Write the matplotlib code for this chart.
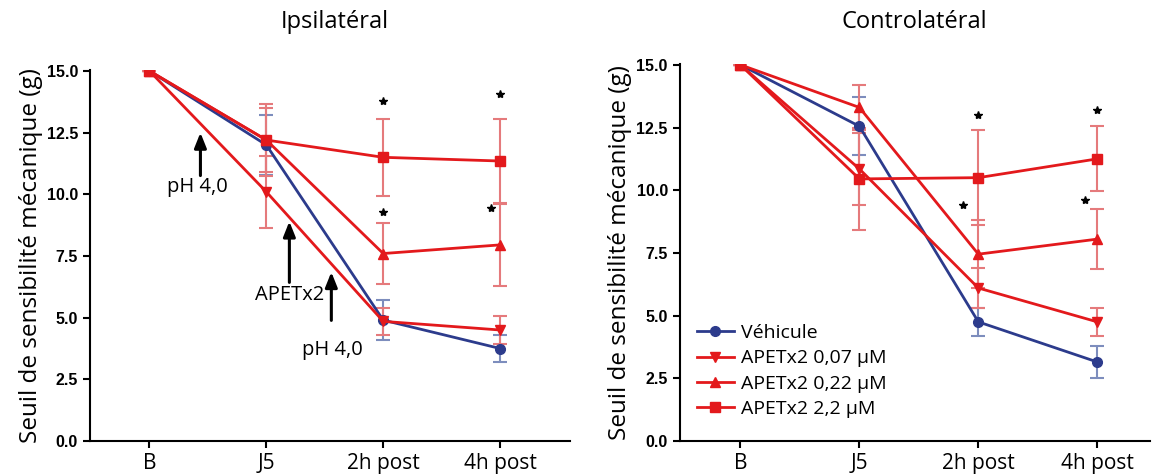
import matplotlib
matplotlib.use("Agg")
import matplotlib.pyplot as plt

times = ["B", "J5", "2h post", "4h post"]
labels = ["Véhicule", "APETx2 0,07 µM", "APETx2 0,22 µM", "APETx2 2,2 µM"]

# Ipsilatéral
ipsi_vehicule = [15, 12.0, 4.9, 3.75]
ipsi_007 = [15, 10.1, 4.85, 4.5]
ipsi_022 = [15, 12.2, 7.6, 7.95]
ipsi_22 = [15, 12.2, 11.5, 11.35]
ipsi_err_vehicule = [0, 1.2, 0.8, 0.55]
ipsi_err_007 = [0, 1.45, 0.55, 0.55]
ipsi_err_022 = [0, 1.45, 1.25, 1.65]
ipsi_err_22 = [0, 1.3, 1.55, 1.7]

# Controlatéral
contra_vehicule = [15, 12.55, 4.75, 3.15]
contra_007 = [15, 10.85, 6.1, 4.75]
contra_022 = [15, 13.3, 7.45, 8.05]
contra_22 = [15, 10.45, 10.5, 11.25]
contra_err_vehicule = [0, 1.15, 0.55, 0.65]
contra_err_007 = [0, 1.45, 0.8, 0.55]
contra_err_022 = [0, 0.9, 1.35, 1.2]
contra_err_22 = [0, 2.05, 1.9, 1.3]

# significance stars (x index, y)
ipsi_stars_x = [2, 2, 3, 2.92]
ipsi_stars_y = [13.8, 9.3, 14.05, 9.45]
contra_stars_x = [2, 1.87, 3, 2.9]
contra_stars_y = [13.0, 9.4, 13.2, 9.6]

RED = "#e3191c"
BLUE = "#2c3b8c"
RED_ERR = "#e57a7c"
BLUE_ERR = "#7d8dbd"

fig = plt.figure(figsize=(11.52, 4.76), dpi=100)
ax1 = fig.add_axes([0.078, 0.0735, 0.417, 0.780])
ax2 = fig.add_axes([0.590, 0.0735, 0.408, 0.793])


def panel(ax, series, errs, sx, sy, xmax):
    x = list(range(len(times)))
    styles = [("o", BLUE, BLUE_ERR), ("v", RED, RED_ERR), ("^", RED, RED_ERR), ("s", RED, RED_ERR)]
    handles = []
    for (m, c, ec), y, e in zip(styles, series, errs):
        cont = ax.errorbar(x, y, yerr=e, color=c, ecolor=ec, elinewidth=1.5, capsize=5,
                           capthick=1.5, marker=m, markersize=7, lw=2)
        handles.append(cont[0])
    ax.plot(sx, sy, ls="none", marker="*", color="black", markersize=6)
    ax.set_xlim(-0.51, xmax)
    ax.set_ylim(0, 15.05)
    ax.set_yticks([0, 2.5, 5, 7.5, 10, 12.5, 15])
    ax.set_yticklabels(["0.0", "2.5", "5.0", "7.5", "10.0", "12.5", "15.0"],
                       family="Liberation Sans", fontweight="bold", fontsize=11.5)
    ax.set_xticks(x)
    ax.set_xticklabels(times, family="Open Sans", fontsize=15)
    ax.spines["top"].set_visible(False)
    ax.spines["right"].set_visible(False)
    for s in ["left", "bottom"]:
        ax.spines[s].set_linewidth(1.5)
    ax.tick_params(width=1.5, length=5, direction="out")
    ax.set_ylabel("Seuil de sensibilité mécanique (g)", family="Open Sans", fontsize=17.5, labelpad=3)
    return handles


panel(ax1, [ipsi_vehicule, ipsi_007, ipsi_022, ipsi_22],
      [ipsi_err_vehicule, ipsi_err_007, ipsi_err_022, ipsi_err_22],
      ipsi_stars_x, ipsi_stars_y, 3.6)
h = panel(ax2, [contra_vehicule, contra_007, contra_022, contra_22],
          [contra_err_vehicule, contra_err_007, contra_err_022, contra_err_22],
          contra_stars_x, contra_stars_y, 3.44)

fig.text(0.291, 0.954, "Ipsilatéral", ha="center", va="center", family="Open Sans", fontsize=17)
fig.text(0.794, 0.954, "Controlatéral", ha="center", va="center", family="Open Sans", fontsize=17)

# annotation arrows (left panel)
arrows = [(0.436, 10.76, 12.5, "pH 4,0", 0.41, 10.3),
          (1.197, 6.43, 8.9, "APETx2", 1.197, 5.9),
          (1.556, 4.89, 6.85, "pH 4,0", 1.565, 3.7)]
for ax_x, y0, y1, txt, tx, ty in arrows:
    ax1.annotate("", xy=(ax_x, y1), xytext=(ax_x, y0),
                 arrowprops=dict(arrowstyle="-|>,head_width=0.2,head_length=0.5",
                                 color="black", lw=2.2, mutation_scale=18,
                                 shrinkA=0, shrinkB=0))
    ax1.text(tx, ty, txt, ha="center", va="center", family="Open Sans", fontsize=14.5)

ax2.legend(h, labels, loc="lower left", bbox_to_anchor=(0.02, 0.04), frameon=False,
           prop={"family": "Open Sans", "size": 14}, handlelength=1.9,
           handletextpad=0.35, labelspacing=0.38, borderaxespad=0)

fig.savefig("out.png", dpi=100)
